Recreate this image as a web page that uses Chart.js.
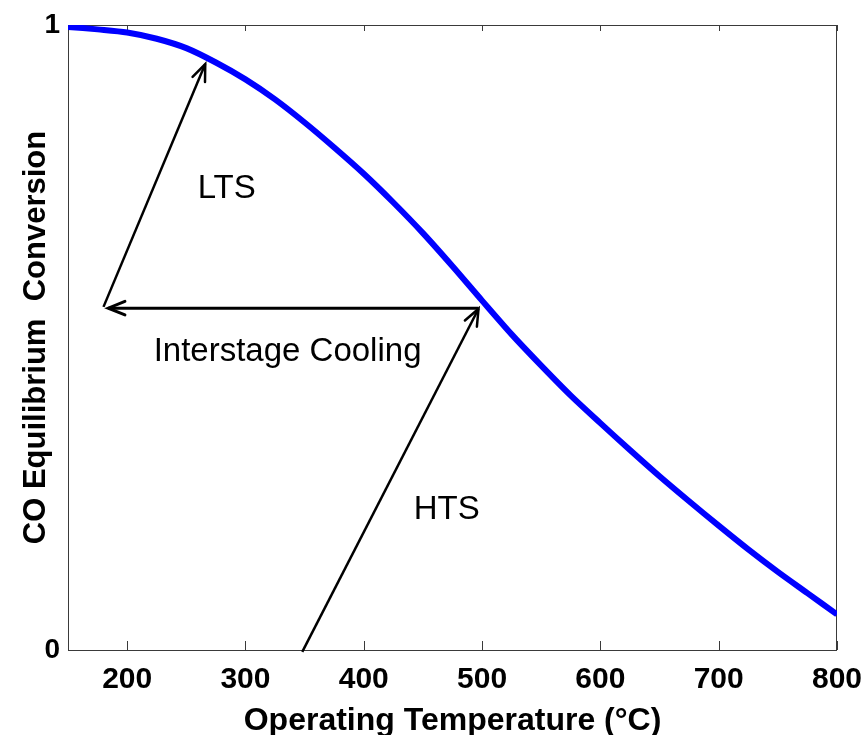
<!DOCTYPE html>
<html><head><meta charset="utf-8">
<script src="https://cdn.jsdelivr.net/npm/chart.js@4/dist/chart.umd.min.js"></script>
<style>html,body{margin:0;padding:0;background:#fff;} #c{display:block;}</style>
</head><body>
<canvas id="c" width="866" height="735"></canvas>
<script>
// ---- data ----
const temperatures = [150,175,200,225,250,275,300,325,350,375,400,425,450,475,500,525,550,575,600,625,650,675,700,725,750,775,800];
const conversion   = [0.997,0.993,0.988,0.978,0.963,0.940,0.913,0.881,0.844,0.804,0.762,0.716,0.667,0.614,0.559,0.505,0.455,0.407,0.363,0.320,0.278,0.238,0.199,0.161,0.125,0.091,0.057];
const xTickValues = [200,300,400,500,600,700,800];
const yTickValues = [0,1];
// arrows: [tail, tip] in data units
const ltsArrowX = [180, 266];
const ltsArrowY = [0.549, 0.9375];
const coolingArrowX = [497, 184];
const coolingArrowY = [0.547, 0.547];
const htsArrowX = [348, 497];
const htsArrowY = [-0.003, 0.546];
// text annotations (anchored in data units)
const labelTexts = ['LTS', 'Interstage Cooling', 'HTS'];
const labelX = [259.6, 222.4, 442.2];
const labelY = [0.724, 0.462, 0.210];

const FONT = "'Liberation Sans', Arial, Helvetica, sans-serif";
Chart.defaults.font.family = FONT;

const pts = (xs, ys) => xs.map((x, i) => ({x: x, y: ys[i]}));

const arrowDs = (xs, ys, w) => ({
  type: 'line', data: pts(xs, ys), borderColor: '#000', borderWidth: w,
  pointRadius: 0, tension: 0, clip: false, isArrow: true, order: 1
});

const decorPlugin = {
  id: 'decor',
  beforeDatasetsDraw(chart) {
    const {ctx, chartArea: a, scales: {x}} = chart;
    ctx.save();
    ctx.strokeStyle = '#3a3a3a';
    ctx.lineWidth = 1;
    ctx.strokeRect(Math.round(a.left) + 0.5, Math.round(a.top) + 0.5, Math.round(a.right - a.left) - 1, Math.round(a.bottom - a.top));
    ctx.beginPath();
    x.ticks.forEach(t => {
      const px = Math.round(x.getPixelForValue(t.value)) + 0.5;
      ctx.moveTo(px, a.bottom); ctx.lineTo(px, a.bottom - 9);
      ctx.moveTo(px, a.top); ctx.lineTo(px, a.top + 6);
    });
    ctx.stroke();
    ctx.restore();
  },
  afterDatasetsDraw(chart) {
    const {ctx, scales: {x, y}} = chart;
    ctx.save();
    chart.data.datasets.forEach(ds => {
      if (!ds.isArrow) return;
      const d = ds.data;
      const tip = d[d.length - 1], tail = d[d.length - 2];
      const tx = x.getPixelForValue(tip.x), ty = y.getPixelForValue(tip.y);
      const bx = x.getPixelForValue(tail.x), by = y.getPixelForValue(tail.y);
      const ang = Math.atan2(by - ty, bx - tx);
      const L = 18, spread = 22 * Math.PI / 180;
      ctx.strokeStyle = '#000';
      ctx.lineWidth = ds.borderWidth;
      ctx.lineCap = 'round';
      ctx.beginPath();
      ctx.moveTo(tx + L * Math.cos(ang + spread), ty + L * Math.sin(ang + spread));
      ctx.lineTo(tx, ty);
      ctx.lineTo(tx + L * Math.cos(ang - spread), ty + L * Math.sin(ang - spread));
      ctx.stroke();
    });
    ctx.fillStyle = '#000';
    ctx.font = '33px ' + FONT;
    ctx.textAlign = 'left';
    ctx.textBaseline = 'alphabetic';
    labelTexts.forEach((t, i) => {
      ctx.fillText(t, x.getPixelForValue(labelX[i]), y.getPixelForValue(labelY[i]));
    });
    ctx.restore();
  }
};

new Chart(document.getElementById('c'), {
  type: 'line',
  data: {
    datasets: [
      {
        data: pts(temperatures, conversion), borderColor: '#0000ff', borderWidth: 6,
        pointRadius: 0, tension: 0.3, order: 0
      },
      arrowDs(ltsArrowX, ltsArrowY, 2.5),
      arrowDs(coolingArrowX, coolingArrowY, 3),
      arrowDs(htsArrowX, htsArrowY, 2.5)
    ]
  },
  options: {
    responsive: false, animation: false, devicePixelRatio: 1,
    layout: {padding: {top: 25, right: 29, left: 0, bottom: 0}},
    plugins: {legend: {display: false}, tooltip: {enabled: false}},
    scales: {
      x: {
        type: 'linear', min: 150, max: 800,
        afterBuildTicks: s => { s.ticks = xTickValues.map(v => ({value: v})); },
        afterFit: s => { s.height = 85; s.paddingLeft = 0; s.paddingRight = 0; },
        grid: {display: false, drawTicks: false},
        border: {display: false},
        ticks: {font: {size: 30, weight: 'bold'}, color: '#000', padding: 12, maxRotation: 0, autoSkip: false, callback: v => v},
        title: {display: true, text: 'Operating Temperature (°C)', color: '#000',
                font: {size: 32, weight: 'bold', lineHeight: 1}, padding: {top: 0, bottom: -2}}
      },
      y: {
        min: 0, max: 1,
        afterBuildTicks: s => { s.ticks = yTickValues.map(v => ({value: v})); },
        afterFit: s => { s.width = 68; s.paddingTop = 0; s.paddingBottom = 0; },
        grid: {display: false, drawTicks: false},
        border: {display: false},
        ticks: {font: {size: 28, weight: 'bold'}, color: '#000', padding: 8, callback: v => v},
        title: {display: true, text: 'CO Equilibrium  Conversion', color: '#000',
                font: {size: 31, weight: 'bold', lineHeight: 1}, padding: {top: 21, bottom: 0}}
      }
    }
  },
  plugins: [decorPlugin]
});
</script>
</body></html>
